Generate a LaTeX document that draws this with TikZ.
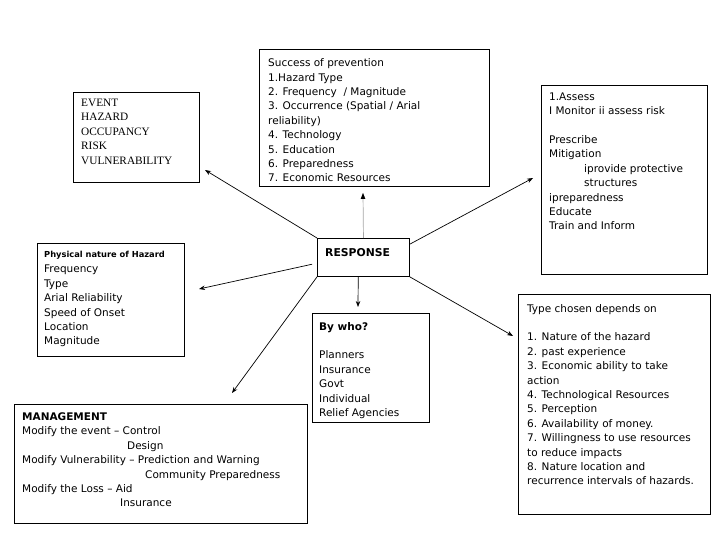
\documentclass[tikz,border=0pt]{standalone}
\usepackage{fontspec}
\setmainfont{DejaVu Sans}
\newfontfamily\serifbox{Liberation Serif}
\usetikzlibrary{arrows.meta,calc}
\begin{document}
\begin{tikzpicture}[x=1bp,y=-1bp,
  frame/.style={draw=black,line width=0.9bp,inner sep=0pt,anchor=north west,fill=white},
  txt/.style={anchor=north west,inner sep=0pt,align=left,font=\fontsize{10.5bp}{14.4bp}\selectfont},
  arr/.style={line width=0.7bp,-{Stealth[length=6bp,width=4.5bp]}},
]
\useasboundingbox (0,0) rectangle (728,546);
% boxes
\node[frame,minimum width=126bp,minimum height=90bp] (ev) at (73,92) {};
\node[frame,minimum width=230bp,minimum height=137bp] (succ) at (259,49) {};
\node[frame,minimum width=166bp,minimum height=189bp] (assess) at (541,85) {};
\node[frame,minimum width=147bp,minimum height=113bp] (phys) at (37,243) {};
\node[frame,minimum width=92bp,minimum height=38bp] (resp) at (317,238) {};
\node[frame,minimum width=117bp,minimum height=109bp] (who) at (312,313) {};
\node[frame,minimum width=192bp,minimum height=220bp] (type) at (518,294) {};
\node[frame,minimum width=293bp,minimum height=119bp] (mgmt) at (14,404) {};
% texts
\node[txt,font=\serifbox\fontsize{11.3bp}{14.4bp}\selectfont] (evt) at (81,99)
  {EVENT\\HAZARD\\OCCUPANCY\\RISK\\VULNERABILITY};
\node[txt] (succt) at (268,58.5)
  {Success of prevention\\1.Hazard Type\\2. Frequency\ \ / Magnitude\\3. Occurrence (Spatial / Arial\\reliability)\\4. Technology\\5. Education\\6. Preparedness\\7. Economic Resources};
\node[txt] (assesst) at (549,92.5)
  {1.Assess\\I Monitor ii assess risk\\\mbox{}\\Prescribe\\Mitigation\\\hspace*{35bp}iprovide protective\\\hspace*{35bp}structures\\ipreparedness\\Educate\\Train and Inform};
\node[txt,font=\bfseries\fontsize{8.3bp}{10bp}\selectfont] (physh) at (44,251) {Physical nature of Hazard};
\node[txt] (physt) at (44,265)
  {Frequency\\Type\\Arial Reliability\\Speed of Onset\\Location\\Magnitude};
\node[txt,font=\bfseries\fontsize{10.8bp}{14bp}\selectfont] (respt) at (325,248) {RESPONSE};
\node[txt] (whot) at (319,322)
  {\textbf{By who?}\\\mbox{}\\Planners\\Insurance\\Govt\\Individual\\Relief Agencies};
\node[txt] (typet) at (527,304)
  {Type chosen depends on\\\mbox{}\\1. Nature of the hazard\\2. past experience\\3. Economic ability to take\\action\\4. Technological Resources\\5. Perception\\6. Availability of money.\\7. Willingness to use resources\\to reduce impacts\\8. Nature location and\\recurrence intervals of hazards.};
\node[txt] (mgmtt) at (22,412.5)
  {\textbf{MANAGEMENT}\\Modify the event -- Control\\\hspace*{105bp}Design\\Modify Vulnerability -- Prediction and Warning\\\hspace*{123bp}Community Preparedness\\Modify the Loss -- Aid\\\hspace*{98bp}Insurance};
% arrow tips
\coordinate (t1) at (205,170);
\coordinate (t2) at (363,193);
\coordinate (t3) at (533,178);
\coordinate (t4) at (199,289);
\coordinate (t5) at (358,307);
\coordinate (t6) at (513,336);
\coordinate (t7) at (232,393);
\draw[arr] (resp.north west) -- (t1);
\draw[arr,draw=gray!70] (resp.north) -- (t2);
\fill[black] (t2) -- ++(-2.3,6) -- ++(4.6,0) -- cycle;
\draw[arr] (resp.16) -- (t3);
\draw[arr,shorten <=5bp] (resp.187) -- (t4);
\draw[arr] (resp.255) -- (t5);
\draw[arr] (resp.south east) -- (t6);
\draw[arr] (resp.south west) -- (t7);
\end{tikzpicture}
\end{document}
